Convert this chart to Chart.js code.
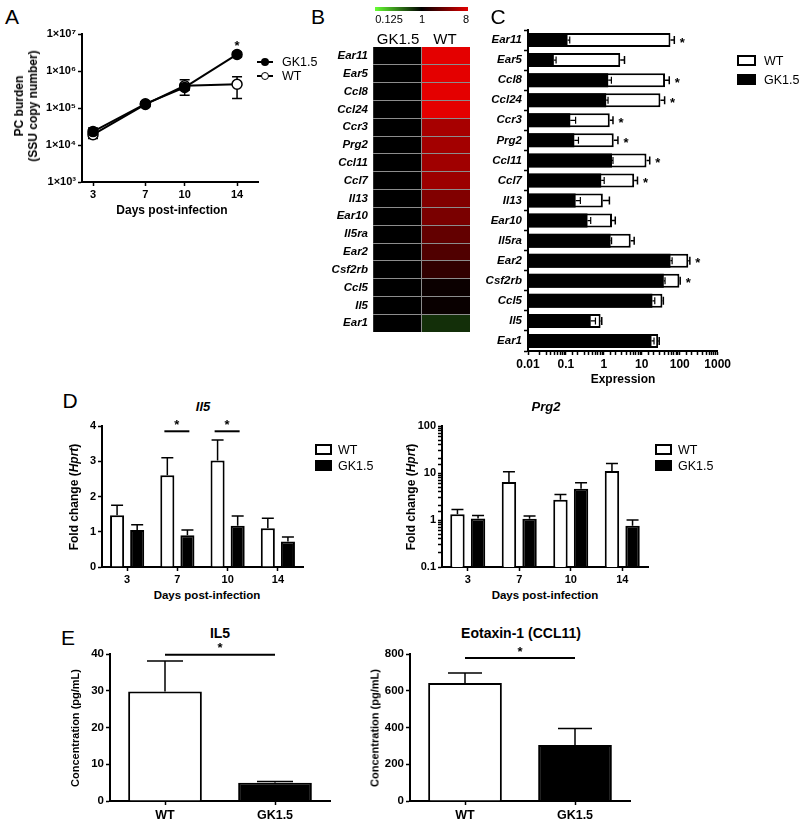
<!DOCTYPE html>
<html>
<head>
<meta charset="utf-8">
<script src="https://cdn.jsdelivr.net/npm/chart.js@4.4.1/dist/chart.umd.min.js"></script>
<style>
body { margin: 0; background: #fff; font-family: "Liberation Sans", Arial, sans-serif; color: #000; }
#fig { position: relative; width: 800px; height: 825px; overflow: hidden; }
canvas { position: absolute; }
.t { position: absolute; white-space: nowrap; transform: translate(-50%, -50%); line-height: 1; }
.l { position: absolute; white-space: nowrap; transform: translate(0, -50%); line-height: 1; }
.rot { transform: translate(-50%, -50%) rotate(-90deg); }
.b { font-weight: bold; }
.panel { position: absolute; font-size: 21px; line-height: 1; transform: translate(-50%, -50%); }
.box { position: absolute; box-sizing: border-box; }
</style>
</head>
<body>
<div id="fig">
  <canvas id="chartA"></canvas>
  <canvas id="chartB"></canvas>
  <canvas id="chartC"></canvas>
  <canvas id="chartD1"></canvas>
  <canvas id="chartD2"></canvas>
  <canvas id="chartE1"></canvas>
  <canvas id="chartE2"></canvas>

  <!-- panel letters -->
  <div class="panel" style="left:12px;top:16px">A</div>
  <div class="panel" style="left:318px;top:16px">B</div>
  <div class="panel" style="left:498px;top:16px">C</div>
  <div class="panel" style="left:70px;top:400px">D</div>
  <div class="panel" style="left:68px;top:637px">E</div>

  <!-- A -->
  <div class="t rot b" style="left:26px;top:106px;font-size:12px;text-align:center;line-height:14px">PC burden<br>(SSU copy number)</div>
  <div class="t b" style="left:172px;top:210px;font-size:12px">Days post-infection</div>
  <div class="box" style="left:257px;top:61px;width:16px;height:2px;background:#000"></div>
  <div class="box" style="left:261px;top:58px;width:8px;height:8px;border-radius:50%;background:#000"></div>
  <div class="l" style="left:282px;top:62px;font-size:12.5px">GK1.5</div>
  <div class="box" style="left:257px;top:75px;width:16px;height:2px;background:#000"></div>
  <div class="box" style="left:261px;top:72px;width:8px;height:8px;border-radius:50%;background:#fff;border:1.5px solid #000"></div>
  <div class="l" style="left:282px;top:76px;font-size:12.5px">WT</div>

  <!-- B -->
  <div class="box" style="left:375px;top:7px;width:93px;height:4px;background:linear-gradient(to right,#66ff33,#000 50%,#e40000)"></div>
  <div class="t" style="left:389px;top:19px;font-size:11px">0.125</div>
  <div class="t" style="left:422px;top:19px;font-size:11px">1</div>
  <div class="t" style="left:466px;top:19px;font-size:11px">8</div>
  <div class="t" style="left:398px;top:38px;font-size:15px">GK1.5</div>
  <div class="t" style="left:445px;top:38px;font-size:15px">WT</div>

  <!-- C -->
  <div class="t b" style="left:623px;top:379px;font-size:12px">Expression</div>
  <div class="box" style="left:737px;top:55px;width:19px;height:11px;background:#fff;border:2px solid #000"></div>
  <div class="l" style="left:764px;top:61px;font-size:12.5px">WT</div>
  <div class="box" style="left:737px;top:74px;width:19px;height:11px;background:#000"></div>
  <div class="l" style="left:764px;top:80px;font-size:12.5px">GK1.5</div>

  <!-- D -->
  <div class="t b" style="left:203px;top:406px;font-size:13px;font-style:italic">Il5</div>
  <div class="t b" style="left:546px;top:406px;font-size:13px;font-style:italic">Prg2</div>
  <div class="t rot b" style="left:74px;top:497px;font-size:12px">Fold change (<i>Hprt</i>)</div>
  <div class="t rot b" style="left:411px;top:497px;font-size:12px">Fold change (<i>Hprt</i>)</div>
  <div class="t b" style="left:207px;top:596px;font-size:11.5px">Days post-infection</div>
  <div class="t b" style="left:545px;top:596px;font-size:11.5px">Days post-infection</div>
  <div class="box" style="left:315px;top:444px;width:17px;height:11px;background:#fff;border:2px solid #000"></div>
  <div class="l" style="left:338px;top:450px;font-size:12.5px">WT</div>
  <div class="box" style="left:315px;top:460px;width:17px;height:11px;background:#000"></div>
  <div class="l" style="left:338px;top:466px;font-size:12.5px">GK1.5</div>
  <div class="box" style="left:655px;top:444px;width:17px;height:11px;background:#fff;border:2px solid #000"></div>
  <div class="l" style="left:678px;top:450px;font-size:12.5px">WT</div>
  <div class="box" style="left:655px;top:460px;width:17px;height:11px;background:#000"></div>
  <div class="l" style="left:678px;top:466px;font-size:12.5px">GK1.5</div>

  <!-- E -->
  <div class="t b" style="left:220px;top:633px;font-size:14px">IL5</div>
  <div class="t b" style="left:521px;top:633px;font-size:14px">Eotaxin-1 (CCL11)</div>
  <div class="t rot b" style="left:75px;top:728px;font-size:11px">Concentration (pg/mL)</div>
  <div class="t rot b" style="left:375px;top:728px;font-size:11px">Concentration (pg/mL)</div>
</div>

<script>
// ---- data ----
const days = [3, 7, 10, 14];
const gkBurden = [23000, 130000, 360000, 2800000];
const gkBurdenSem = [6000, 15000, 60000, 400000];
const wtBurden = [19000, 125000, 400000, 440000];
const wtBurdenSem = [4000, 15000, 180000, 260000];

const genes = ['Ear11', 'Ear5', 'Ccl8', 'Ccl24', 'Ccr3', 'Prg2', 'Ccl11', 'Ccl7',
               'Il13', 'Ear10', 'Il5ra', 'Ear2', 'Csf2rb', 'Ccl5', 'Il5', 'Ear1'];
// heatmap, log2 fold
const heatGK = [0, 0, 0, 0, 0, 0, 0, 0, 0, 0, 0, 0, 0, 0, 0, 0];
const heatWT = [3, 3, 3, 3, 2.2, 2.15, 2.1, 2.05, 1.7, 1.6, 1.3, 1.05, 0.65, 0.15, 0.12, -0.55];

const wtExpr = [57, 2.7, 41, 31, 1.43, 1.82, 13.3, 6.3, 0.94, 1.64, 5.1, 168, 98, 35, 0.82, 27];
const wtExprSem = [15, 0.8, 12, 9, 0.31, 0.53, 2.9, 1.4, 0.46, 0.36, 1.2, 17, 5, 2, 0.06, 1.8];
const gkExpr = [0.11, 0.048, 1.3, 1.15, 0.13, 0.166, 1.64, 0.85, 0.18, 0.37, 1.5, 57, 38, 19, 0.45, 18];
const gkExprSem = [0.016, 0.007, 0.28, 0.14, 0.05, 0.048, 0.1, 0.17, 0.06, 0.08, 0.1, 6, 3, 3, 0.15, 3];
const exprSig = [1, 0, 1, 1, 1, 1, 1, 1, 0, 0, 0, 1, 1, 0, 0, 0];

const dDays = ['3', '7', '10', '14'];
const il5WT = [1.47, 2.6, 3.02, 1.1];
const il5WTSem = [0.28, 0.5, 0.58, 0.28];
const il5GK = [1.05, 0.9, 1.17, 0.72];
const il5GKSem = [0.15, 0.15, 0.28, 0.13];
const prg2WT = [1.33, 6.4, 2.7, 11];
const prg2WTSem = [0.34, 4.2, 0.8, 5];
const prg2GK = [1.08, 1.06, 4.6, 0.75];
const prg2GKSem = [0.17, 0.16, 1.6, 0.25];

const groups = ['WT', 'GK1.5'];
const il5Conc = [29.8, 5.0];
const il5ConcSem = [8.3, 0.3];
const ccl11Conc = [642, 305];
const ccl11ConcSem = [54, 89];

// ---- setup ----
Chart.defaults.font.family = '"Liberation Sans", Arial, sans-serif';
Chart.defaults.color = '#000';
Chart.defaults.animation = false;
Chart.defaults.plugins.legend.display = false;
Chart.defaults.plugins.tooltip.enabled = false;

const PAD = 12;

// put a canvas so that its chart area lands on l,t,r,b of the page
function place(id, l, t, r, b, yW, xH) {
  const c = document.getElementById(id);
  const w = Math.round(r - l + yW + PAD), h = Math.round(b - t + xH + PAD);
  c.width = w; c.height = h;
  c.style.width = w + 'px'; c.style.height = h + 'px';
  c.style.left = (l - yW) + 'px';
  c.style.top = (t - PAD) + 'px';
  return c.getContext('2d');
}

const sup = n => String(n).split('').map(d => '⁰¹²³⁴⁵⁶⁷⁸⁹'[+d]).join('');
const isDecade = v => Math.abs(Math.log10(v) - Math.round(Math.log10(v))) < 1e-6;
const decLabel = v => isDecade(v) ? String(Number(v.toPrecision(1))) : '';

function heatColor(v) {
  if (v >= 0) return 'rgb(' + Math.round(228 * Math.min(v / 3, 1)) + ',0,0)';
  const t = Math.min(-v / 3, 1);
  return 'rgb(' + Math.round(102 * t) + ',' + Math.round(255 * t) + ',' + Math.round(51 * t) + ')';
}

function axisOpts(size, fit, extra) {
  return Object.assign({
    border: { color: '#000', width: 2 },
    grid: { drawOnChartArea: false, drawTicks: true, tickLength: 4, color: '#000', tickWidth: 1.5 },
    ticks: { font: { size: size, weight: 'bold' }, padding: 2, color: '#000', autoSkip: false, maxRotation: 0 },
    afterFit: fit
  }, extra || {});
}

// error bars (one sided for bars, both sides for lines)
function drawErrors(chart, lineMode) {
  const { ctx } = chart;
  const horiz = chart.options.indexAxis === 'y';
  const isLine = chart.config.type === 'line';
  if (isLine !== lineMode) return;
  chart.data.datasets.forEach((ds, di) => {
    if (!ds.errors) return;
    const meta = chart.getDatasetMeta(di);
    const vs = horiz ? chart.scales.x : chart.scales.y;
    const cap = ds.capHalf || 5;
    ctx.save();
    ctx.strokeStyle = '#000';
    ctx.lineWidth = ds.errWidth || 1.5;
    meta.data.forEach((el, i) => {
      const d = ds.data[i];
      const v = typeof d === 'object' ? d.y : d;
      const e = ds.errors[i];
      ctx.beginPath();
      if (horiz) {
        const x1 = vs.getPixelForValue(v + e);
        ctx.moveTo(el.x, el.y); ctx.lineTo(x1, el.y);
        ctx.moveTo(x1, el.y - cap); ctx.lineTo(x1, el.y + cap);
      } else if (isLine) {
        const y1 = vs.getPixelForValue(v + e), y2 = vs.getPixelForValue(v - e);
        ctx.moveTo(el.x, y1); ctx.lineTo(el.x, y2);
        ctx.moveTo(el.x - cap, y1); ctx.lineTo(el.x + cap, y1);
        ctx.moveTo(el.x - cap, y2); ctx.lineTo(el.x + cap, y2);
      } else {
        const y1 = vs.getPixelForValue(v + e);
        ctx.moveTo(el.x, el.y); ctx.lineTo(el.x, y1);
        ctx.moveTo(el.x - cap, y1); ctx.lineTo(el.x + cap, y1);
      }
      ctx.stroke();
    });
    ctx.restore();
  });
}
const errorBars = {
  id: 'errorBars',
  beforeDatasetsDraw(chart) { drawErrors(chart, true); },
  afterDatasetsDraw(chart) { drawErrors(chart, false); }
};

// significance marks
const sigMarks = {
  id: 'sigMarks',
  afterDatasetsDraw(chart, args, opts) {
    const items = opts.items || [];
    const { ctx } = chart;
    const xs = chart.scales.x, ys = chart.scales.y;
    ctx.save();
    ctx.fillStyle = '#000'; ctx.strokeStyle = '#000'; ctx.lineWidth = 2;
    ctx.font = 'bold 13px "Liberation Sans", Arial, sans-serif';
    ctx.textAlign = 'center'; ctx.textBaseline = 'middle';
    items.forEach(it => {
      if (it.x2 !== undefined) {
        const y = ys.getPixelForValue(it.v);
        const xa = xs.getPixelForValue(it.x1) + (it.d1 || 0);
        const xb = xs.getPixelForValue(it.x2) + (it.d2 || 0);
        ctx.beginPath(); ctx.moveTo(xa, y); ctx.lineTo(xb, y); ctx.stroke();
        ctx.fillText('*', (xa + xb) / 2, y - 6);
      } else {
        ctx.fillText('*', xs.getPixelForValue(it.xv) + (it.dx || 0), ys.getPixelForValue(it.yv) + (it.dy || 0));
      }
    });
    ctx.restore();
  }
};
Chart.register(errorBars, sigMarks);

// ===================
// A: PC burden
// ===================
new Chart(place('chartA', 82, 34, 258, 182, 62, 22), {
  type: 'line',
  data: {
    datasets: [{
      label: 'GK1.5',
      data: days.map((d, i) => ({ x: d, y: gkBurden[i] })),
      errors: gkBurdenSem,
      borderColor: '#000', borderWidth: 2, tension: 0,
      pointRadius: 5, pointBackgroundColor: '#000', pointBorderColor: '#000', pointBorderWidth: 1.5
    }, {
      label: 'WT',
      data: days.map((d, i) => ({ x: d, y: wtBurden[i] })),
      errors: wtBurdenSem,
      borderColor: '#000', borderWidth: 2, tension: 0,
      pointRadius: 5, pointBackgroundColor: '#fff', pointBorderColor: '#000', pointBorderWidth: 1.5
    }]
  },
  options: {
    responsive: false,
    layout: { padding: { top: PAD, right: PAD } },
    plugins: { sigMarks: { items: [{ xv: 14, yv: gkBurden[3], dy: -8 }] } },
    scales: {
      x: axisOpts(11, s => { s.height = 22; }, {
        type: 'linear', min: 2.16, max: 15.6,
        afterBuildTicks: s => { s.ticks = days.map(v => ({ value: v })); }
      }),
      y: axisOpts(11, s => { s.width = 62; }, {
        type: 'logarithmic', min: 1e3, max: 1e7,
        afterBuildTicks: s => { s.ticks = [1e3, 1e4, 1e5, 1e6, 1e7].map(v => ({ value: v })); },
        ticks: {
          font: { size: 11, weight: 'bold' }, padding: 2, color: '#000',
          callback: v => '1×10' + sup(Math.round(Math.log10(v)))
        }
      })
    }
  }
});

// ===================
// B: heatmap
// ===================
new Chart(place('chartB', 372.7, 47, 470, 344, 62, 0), {
  type: 'bar',
  data: {
    labels: genes,
    datasets: [
      { label: 'GK1.5', data: genes.map(() => 1), backgroundColor: heatGK.map(heatColor) },
      { label: 'WT', data: genes.map(() => 1), backgroundColor: heatWT.map(heatColor) }
    ]
  },
  options: {
    responsive: false,
    indexAxis: 'y',
    layout: { padding: { top: PAD, right: PAD } },
    datasets: { bar: { barPercentage: 1, categoryPercentage: 1, borderWidth: 0 } },
    scales: {
      x: {
        stacked: true, min: 0, max: 2,
        ticks: { display: false, stepSize: 1 },
        border: { display: false },
        grid: { z: 1, drawTicks: false, lineWidth: 1, color: c => (c.tick && c.tick.value === 1) ? '#8c8c8c' : 'rgba(0,0,0,0)' },
        afterFit: s => { s.height = 0; }
      },
      y: {
        stacked: true,
        border: { display: false },
        grid: { z: 1, offset: true, drawTicks: false, lineWidth: 1, color: c => (c.index > 0 && c.index < genes.length) ? '#8c8c8c' : 'rgba(0,0,0,0)' },
        ticks: { font: { size: 11.5, weight: 'bold', style: 'italic' }, padding: 5, color: '#000', autoSkip: false },
        afterFit: s => { s.width = 62; }
      }
    }
  }
});

// ===================
// C: expression bars
// ===================
new Chart(place('chartC', 528.3, 30, 721, 350.5, 72, 22), {
  type: 'bar',
  data: {
    labels: genes,
    datasets: [
      { label: 'GK1.5', data: gkExpr, errors: gkExprSem, backgroundColor: '#000', borderColor: '#000', borderWidth: 0, capHalf: 3.5, errWidth: 1.2 },
      { label: 'WT', data: wtExpr, errors: wtExprSem, backgroundColor: '#fff', borderColor: '#000', borderWidth: 2, capHalf: 4 }
    ]
  },
  options: {
    responsive: false,
    indexAxis: 'y',
    layout: { padding: { top: PAD, right: PAD } },
    datasets: { bar: { grouped: false, barPercentage: 0.7, categoryPercentage: 1 } },
    plugins: {
      sigMarks: {
        items: exprSig.map((s, i) => s ? { xv: wtExpr[i] + wtExprSem[i], yv: i, dx: 8, dy: 3 } : null).filter(Boolean)
      }
    },
    scales: {
      x: axisOpts(12, s => { s.height = 22; }, {
        type: 'logarithmic', min: 0.01, max: 1000,
        ticks: { font: { size: 12, weight: 'bold' }, padding: 2, color: '#000', autoSkip: false, maxRotation: 0, callback: decLabel }
      }),
      y: axisOpts(11.5, s => { s.width = 72; }, {
        grid: { drawOnChartArea: false, drawTicks: true, tickLength: 4, color: '#000', tickWidth: 1.5, offset: true },
        ticks: { font: { size: 11.5, weight: 'bold', style: 'italic' }, padding: 2, color: '#000', autoSkip: false }
      })
    }
  }
});

// ===================
// D: qPCR time course
// ===================
function dChart(id, l, t, r, b, wt, wtSem, gk, gkSem, yScale, sig) {
  return new Chart(place(id, l, t, r, b, 40, 22), {
    type: 'bar',
    data: {
      labels: dDays,
      datasets: [
        { label: 'WT', data: wt, errors: wtSem, backgroundColor: '#fff', borderColor: '#000', borderWidth: 2, capHalf: 6 },
        { label: 'GK1.5', data: gk, errors: gkSem, backgroundColor: '#000', borderColor: '#000', borderWidth: 2, capHalf: 6 }
      ]
    },
    options: {
      responsive: false,
      layout: { padding: { top: PAD, right: PAD } },
      datasets: { bar: { barPercentage: 0.7, categoryPercentage: 0.8 } },
      plugins: { sigMarks: { items: sig } },
      scales: {
        x: axisOpts(11, s => { s.height = 22; }, {
          grid: { drawOnChartArea: false, drawTicks: true, tickLength: 4, color: '#000', tickWidth: 1.5, offset: false }
        }),
        y: axisOpts(11, s => { s.width = 40; }, yScale)
      }
    }
  });
}
dChart('chartD1', 101.7, 425.7, 303, 566.7, il5WT, il5WTSem, il5GK, il5GKSem,
  { min: 0, max: 4, ticks: { font: { size: 11, weight: 'bold' }, padding: 2, color: '#000', stepSize: 1 } },
  [{ x1: 1, x2: 1, d1: -13, d2: 12, v: 3.85 }, { x1: 2, x2: 2, d1: -13, d2: 12, v: 3.85 }]);
dChart('chartD2', 441.7, 426, 648, 566.7, prg2WT, prg2WTSem, prg2GK, prg2GKSem,
  { type: 'logarithmic', min: 0.1, max: 100,
    ticks: { font: { size: 11, weight: 'bold' }, padding: 2, color: '#000', autoSkip: false, callback: decLabel } },
  []);

// ===================
// E: ELISA
// ===================
function eChart(id, l, t, r, b, yW, vals, sem, yMax, yStep, sigV, cap) {
  return new Chart(place(id, l, t, r, b, yW, 22), {
    type: 'bar',
    data: {
      labels: groups,
      datasets: [{ data: vals, errors: sem, backgroundColor: ['#fff', '#000'], borderColor: '#000', borderWidth: 2, capHalf: cap }]
    },
    options: {
      responsive: false,
      layout: { padding: { top: PAD, right: PAD } },
      datasets: { bar: { barPercentage: 0.67, categoryPercentage: 1 } },
      plugins: { sigMarks: { items: [{ x1: 0, x2: 1, v: sigV }] } },
      scales: {
        x: axisOpts(12.5, s => { s.height = 22; }, {
          grid: { drawOnChartArea: false, drawTicks: true, tickLength: 4, color: '#000', tickWidth: 1.5, offset: false },
          ticks: { font: { size: 12.5, weight: 'bold' }, padding: 3, color: '#000' }
        }),
        y: axisOpts(11.5, s => { s.width = yW; }, {
          min: 0, max: yMax,
          ticks: { font: { size: 11.5, weight: 'bold' }, padding: 2, color: '#000', stepSize: yStep }
        })
      }
    }
  });
}
eChart('chartE1', 110, 654.3, 330, 801, 30, il5Conc, il5ConcSem, 40, 10, 39.8, 18);
eChart('chartE2', 410, 654.3, 630, 801, 35, ccl11Conc, ccl11ConcSem, 800, 200, 778, 17);
</script>
</body>
</html>
